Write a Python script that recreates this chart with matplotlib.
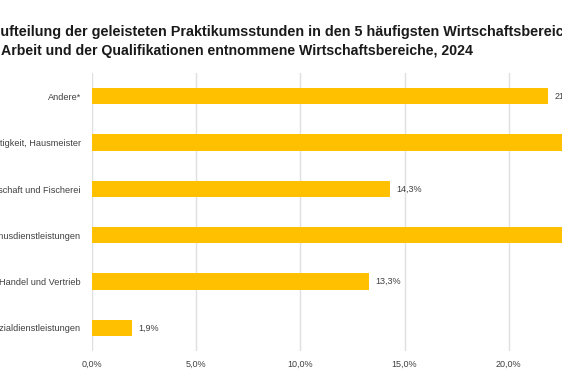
import matplotlib.pyplot as plt

categories = ['Andere*', 'Reinigungstätigkeit, Hausmeister', 'Land-, Forstwirtschaft und Fischerei',
              'Tourismusdienstleistungen', 'Handel und Vertrieb', 'Sozialdienstleistungen']
values = [21.9, 24.6, 14.3, 23.7, 13.3, 1.9]
xticks = [0, 5, 10, 15, 20, 25]

bar_color = '#FFC000'
text_color = '#404040'

plt.rcParams['font.family'] = ['Liberation Sans', 'DejaVu Sans']

fig = plt.figure(figsize=(5.62, 3.74), dpi=100)
ax = fig.add_axes([92/562, 1-351/374, 521/562, 278/374])

y = list(range(len(categories)))
ax.barh(y, values, height=0.35, color=bar_color, zorder=3)
for yi, v in zip(y, values):
    ax.text(v + 0.3, yi, f'{v:.1f}%'.replace('.', ','), va='center', ha='left',
            fontsize=6.5, color=text_color)

ax.set_yticks(y)
ax.set_yticklabels(categories, fontsize=6.6, color=text_color)
ax.set_ylim(len(categories) - 0.5, -0.5)
ax.set_xlim(0, 25)
ax.set_xticks(xticks)
ax.set_xticklabels([f'{t:.1f}%'.replace('.', ',') for t in xticks], fontsize=6.5, color=text_color)
ax.tick_params(length=0, axis='y', pad=8)
ax.tick_params(length=0, axis='x', pad=6)
ax.grid(axis='x', color='#E0E0E0', linewidth=1, zorder=0)
for s in ax.spines.values():
    s.set_visible(False)

fig.text(-0.017, 1-36/374, 'Aufteilung der geleisteten Praktikumsstunden in den 5 häufigsten Wirtschaftsbereichen',
         fontsize=10.4, fontweight='bold', color='#1a1a1a', ha='left', va='baseline')
fig.text(0.002, 1-55/374, 'Arbeit und der Qualifikationen entnommene Wirtschaftsbereiche, 2024',
         fontsize=10.2, fontweight='bold', color='#1a1a1a', ha='left', va='baseline')

fig.savefig('out.png', dpi=100)
